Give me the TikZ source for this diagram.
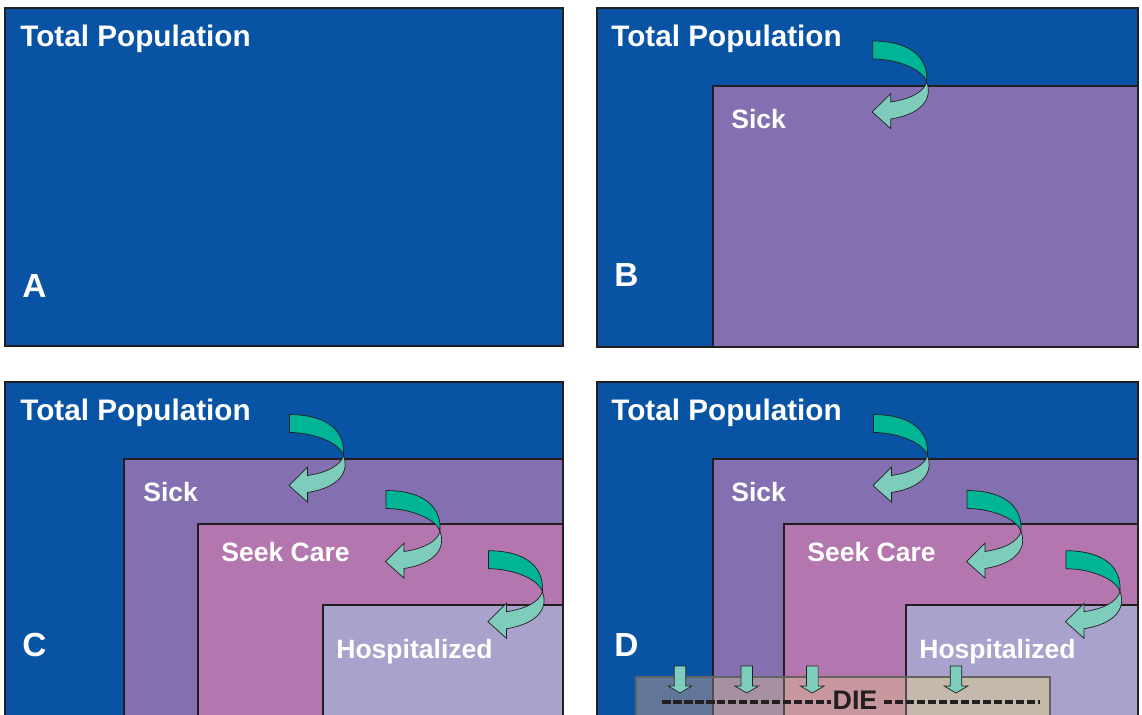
\documentclass[tikz,border=0pt]{standalone}
\usepackage{fontspec}
\setmainfont{Liberation Sans}
\usetikzlibrary{positioning}

\definecolor{popblue}{HTML}{0853A3}
\definecolor{sickpurple}{HTML}{8470B0}
\definecolor{carepink}{HTML}{B376AE}
\definecolor{hosplilac}{HTML}{A8A2CC}
\definecolor{edgegray}{HTML}{231F20}
\definecolor{tealdark}{HTML}{00B496}
\definecolor{teallight}{HTML}{7ECDBC}
\definecolor{dieblue}{HTML}{62769A}
\definecolor{diemauve}{HTML}{A690A2}
\definecolor{diepink}{HTML}{C9979E}
\definecolor{diebeige}{HTML}{C5B9AC}

\begin{document}
\begin{tikzpicture}[x=0.02cm, y=-0.02cm,
		panel/.style={draw=edgegray, line width=0.04cm, fill=popblue},
		sickbox/.style={draw=edgegray, line width=0.04cm, fill=sickpurple},
		carebox/.style={draw=edgegray, line width=0.04cm, fill=carepink},
		hospbox/.style={draw=edgegray, line width=0.04cm, fill=hosplilac},
		titlelabel/.style={text=white, anchor=base west, inner sep=0pt, font=\fontsize{16.9}{20}\selectfont\bfseries},
		boxlabel/.style={text=white, anchor=base west, inner sep=0pt, font=\fontsize{15.1}{18}\selectfont\bfseries},
		letterlabel/.style={text=white, anchor=base west, inner sep=0pt, font=\fontsize{19}{22}\selectfont\bfseries},
		dielabel/.style={text=edgegray, anchor=base, inner sep=0pt, font=\fontsize{15.3}{18}\selectfont\bfseries},
		dieline/.style={draw=edgegray, line width=0.08cm, dash pattern=on 0.17cm off 0.05cm},
		tailpart/.style={fill=tealdark, draw=edgegray, line width=0.4pt},
		headpart/.style={fill=teallight, draw=edgegray, line width=0.4pt},
		bendarrow/.pic={
			\filldraw[tailpart] (-54,-41) .. controls (-24,-41) and (2,-30) .. (0,0) .. controls (-4,-13) and (-30,-23) .. (-54,-23) -- cycle;
			\filldraw[headpart] (0,0) .. controls (6,16) and (-4,32) .. (-36,37) -- (-36,46.6) -- (-54.5,30) -- (-36,11.6) -- (-36,20) .. controls (-16,17) and (-3,10) .. (0,0) -- cycle;
		},
		droparrow/.pic={
			\filldraw[headpart] (-5.8,0) -- (5.8,0) -- (5.8,20) -- (11.8,20) -- (0,27) -- (-11.8,20) -- (-5.8,20) -- cycle;
		}
		]
		
		\useasboundingbox (0,0) rectangle (1142,714);
		\clip (0,0) rectangle (1142,714);
		
		% Panel A
		\draw[panel] (5,8) rectangle (563,346);
		\node[titlelabel] (totalA) at (20,46.5) {Total Population};
		\node[letterlabel] (letterA) at (22,297) {A};
		
		% Panel B
		\draw[panel] (597,8) rectangle (1138,347);
		\draw[sickbox] (713,86) rectangle (1138,347);
		\pic at (926.7,82) {bendarrow};
		\node[titlelabel] (totalB) at (611,46.5) {Total Population};
		\node[boxlabel] (sickB) at (731,128.7) {Sick};
		\node[letterlabel] (letterB) at (614,286.5) {B};
		
		% Panel C
		\draw[panel] (5,382) rectangle (563,740);
		\draw[sickbox] (124,459) rectangle (563,740);
		\draw[carebox] (198,524) rectangle (563,740);
		\draw[hospbox] (323,605) rectangle (563,740);
		\pic at (343.5,455.5) {bendarrow};
		\pic at (440,531.5) {bendarrow};
		\pic at (542.4,591.7) {bendarrow};
		\node[titlelabel] (totalC) at (20,420) {Total Population};
		\node[boxlabel] (sickC) at (143,501.7) {Sick};
		\node[boxlabel] (careC) at (221,561.7) {Seek Care};
		\node[boxlabel] (hospC) at (336,658.3) {Hospitalized};
		\node[letterlabel] (letterC) at (22,656.5) {C};
		
		% Panel D
		\draw[panel] (597,382) rectangle (1138,740);
		\draw[sickbox] (713,459) rectangle (1138,740);
		\draw[carebox] (784,524) rectangle (1138,740);
		\draw[hospbox] (906,605) rectangle (1138,740);
		\pic at (927.5,455.5) {bendarrow};
		\pic at (1021,531.5) {bendarrow};
		\pic at (1120,591.7) {bendarrow};
		\node[titlelabel] (totalD) at (611,420) {Total Population};
		\node[boxlabel] (sickD) at (731,501.7) {Sick};
		\node[boxlabel] (careD) at (807,561.7) {Seek Care};
		\node[boxlabel] (hospD) at (919,658.3) {Hospitalized};
		\node[letterlabel] (letterD) at (614,656.5) {D};
		
		% Die band
		\fill[dieblue] (636,677) rectangle (713,740);
		\fill[diemauve] (713,677) rectangle (784,740);
		\fill[diepink] (784,677) rectangle (906,740);
		\fill[diebeige] (906,677) rectangle (1050,740);
		\draw[edgegray!80, line width=0.04cm] (713,677) -- (713,740) (784,677) -- (784,740) (906,677) -- (906,740);
		\draw[edgegray!70, line width=0.03cm] (636,740) -- (636,677) -- (1050,677) -- (1050,740);
		\pic at (680,666) {droparrow};
		\pic at (746.7,666) {droparrow};
		\pic at (812.3,666) {droparrow};
		\pic at (956,666) {droparrow};
		\node[dielabel] (die) at (855,709.5) {DIE};
		\coordinate (dieL) at (662,702);
		\coordinate (dieR) at (1040,702);
		\draw[dieline] (dieL) -- ([xshift=-0.02cm]die.west |- dieL);
		\draw[dieline] ([xshift=0.12cm]die.east |- dieR) -- (dieR);
		
	\end{tikzpicture}
\end{document}
